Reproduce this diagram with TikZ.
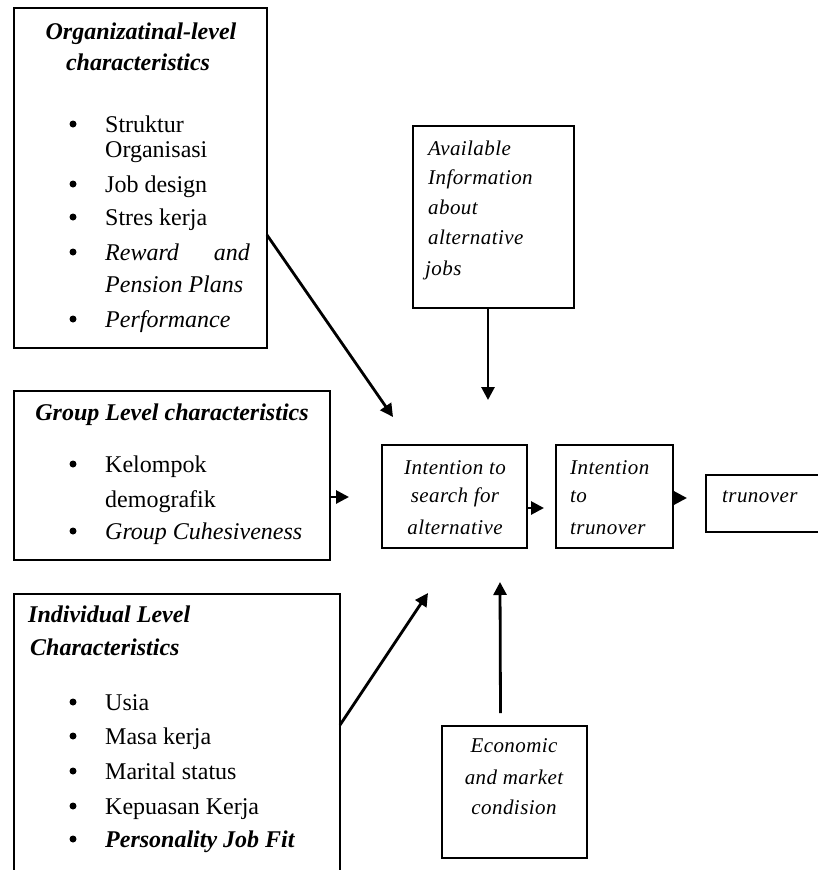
\documentclass[tikz,border=0pt]{standalone}
\usepackage{fontspec}
\setmainfont{Liberation Serif}
\newfontfamily\boxfont[LetterSpace=2]{Liberation Serif}
\usetikzlibrary{arrows.meta,calc}

\begin{document}
\begin{tikzpicture}[x=1pt,y=-1pt,
  frame/.style={draw, line width=1.6pt, inner sep=0pt, outer sep=0pt, anchor=north west},
  txt/.style={anchor=base west, inner sep=0pt, font=\fontsize{24}{24}\selectfont},
  ctxt/.style={anchor=base, inner sep=0pt, font=\fontsize{24}{24}\selectfont},
  rtxt/.style={anchor=base east, inner sep=0pt, font=\fontsize{24}{24}\selectfont},
  stxt/.style={anchor=base west, inner sep=0pt, font=\boxfont\itshape\fontsize{21}{21}\selectfont},
  sctxt/.style={anchor=base, inner sep=0pt, font=\boxfont\itshape\fontsize{21}{21}\selectfont},
  bul/.style={circle, fill, inner sep=0pt, minimum size=7pt, yshift=8pt},
  link/.style={line width=2.8pt, -{Triangle[length=13pt,width=13pt]}},
]
\useasboundingbox (0,0) rectangle (817,870);

% ---------- boxes ----------
\node[frame, minimum width=253pt, minimum height=340pt] (org) at (14,8) {};
\node[frame, minimum width=316pt, minimum height=169pt] (grp) at (14,391) {};
\node[frame, minimum width=326pt, minimum height=290pt] (ind) at (14,594) {};
\node[frame, minimum width=161pt, minimum height=182pt] (avail) at (413,126) {};
\node[frame, minimum width=145pt, minimum height=103pt] (search) at (382,445) {};
\node[frame, minimum width=117pt, minimum height=103pt] (intent) at (556,445) {};
\node[frame, minimum width=120pt, minimum height=57pt] (turn) at (706,475) {};
\node[frame, minimum width=145pt, minimum height=132pt] (econ) at (442,726) {};

% ---------- organizational level ----------
\node[ctxt, font=\bfseries\itshape\fontsize{24}{24}\selectfont] (orgt1) at (141,39) {Organizatinal-level};
\node[ctxt, font=\bfseries\itshape\fontsize{24}{24}\selectfont] (orgt2) at (138,70) {characteristics};
\node[bul] (ob1) at (73,132) {};
\node[txt] (oi1) at (105,132) {Struktur};
\node[txt] (oi1b) at (105,157) {Organisasi};
\node[bul] (ob2) at (73,192) {};
\node[txt] (oi2) at (105,192) {Job design};
\node[bul] (ob3) at (73,225) {};
\node[txt] (oi3) at (105,225) {Stres kerja};
\node[bul] (ob4) at (73,260) {};
\node[txt, font=\itshape\fontsize{24}{24}\selectfont] (oi4) at (105,260) {Reward};
\node[rtxt, font=\itshape\fontsize{24}{24}\selectfont] (oi4a) at (250,260) {and};
\node[txt, font=\itshape\fontsize{24}{24}\selectfont] (oi4b) at (105,292) {Pension Plans};
\node[bul] (ob5) at (73,327) {};
\node[txt, font=\itshape\fontsize{24}{24}\selectfont] (oi5) at (105,327) {Performance};

% ---------- group level ----------
\node[ctxt, font=\bfseries\itshape\fontsize{24}{24}\selectfont] (grpt) at (172,420) {Group Level characteristics};
\node[bul] (gb1) at (73,472) {};
\node[txt] (gi1) at (105,472) {Kelompok};
\node[txt] (gi1b) at (105,507) {demografik};
\node[bul] (gb2) at (73,539) {};
\node[txt, font=\itshape\fontsize{24}{24}\selectfont] (gi2) at (105,539) {Group Cuhesiveness};

% ---------- individual level ----------
\node[txt, font=\bfseries\itshape\fontsize{24}{24}\selectfont] (indt1) at (28,622) {Individual Level};
\node[txt, font=\bfseries\itshape\fontsize{24}{24}\selectfont] (indt2) at (30,655) {Characteristics};
\node[bul] (ib1) at (73,710) {};
\node[txt] (ii1) at (105,710) {Usia};
\node[bul] (ib2) at (73,744) {};
\node[txt] (ii2) at (105,744) {Masa kerja};
\node[bul] (ib3) at (73,779) {};
\node[txt] (ii3) at (105,779) {Marital status};
\node[bul] (ib4) at (73,814) {};
\node[txt] (ii4) at (105,814) {Kepuasan Kerja};
\node[bul] (ib5) at (73,847) {};
\node[txt, font=\bfseries\itshape\fontsize{24}{24}\selectfont] (ii5) at (105,847) {Personality Job Fit};

% ---------- available information ----------
\node[stxt] (av1) at (428,155) {Available};
\node[stxt] (av2) at (428,184) {Information};
\node[stxt] (av3) at (428,214) {about};
\node[stxt] (av4) at (428,244) {alternative};
\node[stxt] (av5) at (425,275) {jobs};

% ---------- intentions and outcome ----------
\node[sctxt] (se1) at (455,474) {Intention to};
\node[sctxt] (se2) at (455,502) {search for};
\node[sctxt] (se3) at (455,534) {alternative};
\node[stxt] (in1) at (570,474) {Intention};
\node[stxt] (in2) at (570,502) {to};
\node[stxt] (in3) at (570,534) {trunover};
\node[stxt] (tu1) at (722,502) {trunover};

% ---------- economic condition ----------
\node[sctxt] (ec1) at (514,752) {Economic};
\node[sctxt] (ec2) at (514,784) {and market};
\node[sctxt] (ec3) at (514,814) {condision};

% ---------- connectors ----------
\coordinate (orgout) at (267,235);
\coordinate (orgin) at (393,417);
\coordinate (availin) at (488,400);
\coordinate (grpin) at (349,497);
\coordinate (searchin) at (544,508);
\coordinate (intentin) at (687,498);
\coordinate (indout) at (340,725);
\coordinate (indin) at (428,593);
\coordinate (econin) at (500,582);

\draw[link] (orgout) -- (orgin);
\draw[link] (avail.south -| availin) -- (availin);
\draw[link] (grp.east |- grpin) -- (grpin);
\draw[link] (search.east |- searchin) -- (searchin);
\draw[link] (intent.east |- intentin) -- (intentin);
\draw[link] (indout) -- (indin);
\draw[link] ($(econ.north)+(-14,-13)$) -- (econin);
\end{tikzpicture}
\end{document}
